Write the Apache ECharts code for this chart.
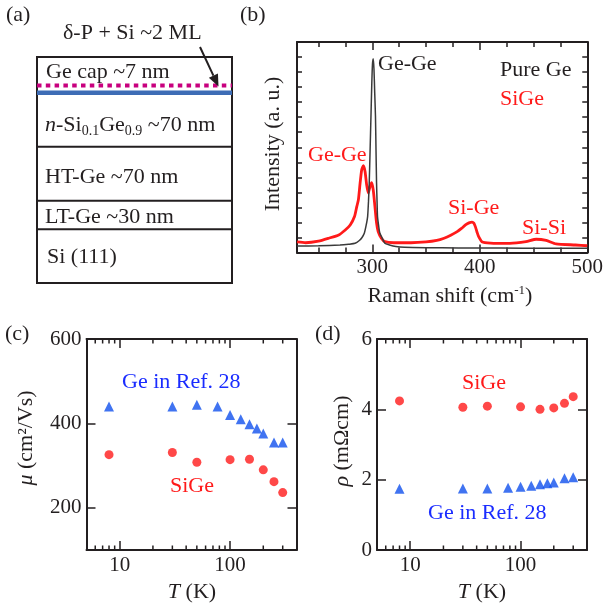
<!DOCTYPE html>
<html><head><meta charset="utf-8">
<script src="https://cdn.jsdelivr.net/npm/echarts@6/dist/echarts.min.js"></script>
<style>html,body{margin:0;padding:0;background:#fff}#c{width:606px;height:608px}</style>
</head><body><div id="c"></div>
<script>
// ---------- data ----------
// (b) Raman spectra
const ramanShiftPureGe = [230,250,270,278,284.1,288,290.5,292.6,294.3,295.7,296.5,297.2,298,298.8,299.6,300.2,300.9,301.6,302.3,303.0,303.5,304.0,304.5,304.9,306,307.1,309,311.7,316,322,330,350,380,420,460,500];
const intensityPureGe = [-0.57,-0.55,-0.5,-0.45,-0.39,-0.2,0.0,0.28,0.8,1.39,2.4,3.63,5.8,8.05,10.3,11.5,11.88,11.2,9.6,8.05,5.8,3.63,2.3,1.39,0.75,0.28,0.0,-0.39,-0.5,-0.6,-0.65,-0.68,-0.7,-0.7,-0.72,-0.72];
const ramanShiftSiGe = [230,238,250,259.6,268.8,274.9,279.5,283.5,285.6,287.1,288.7,290.2,291.7,293.3,294.8,296.3,297.9,299.4,300.9,302.5,304,305.5,308.5,311.7,320,336,350,360,366.8,373,379,383,386.7,390,392.8,394.5,395.9,397.5,399,402,410,428,443,452.6,461.8,471,489,500];
const intensitySiGe = [-0.3,-0.35,-0.25,-0.05,0.17,0.5,0.83,1.39,2.05,2.5,3.61,4.5,4.77,4.39,3.5,2.95,3.39,3.65,3.17,2.05,0.97,0.39,-0.05,-0.28,-0.35,-0.35,-0.3,-0.2,-0.05,0.15,0.39,0.6,0.83,0.97,1.02,0.95,0.72,0.35,0.05,-0.28,-0.37,-0.39,-0.28,-0.12,-0.2,-0.43,-0.5,-0.55];
const ramanLabels = [300,400,500];
const ramanMajorTicks = [300,400];
const ramanMinorTicks = [250,275,325,350,375,425,450,475];

// (c) mobility, (d) resistivity vs temperature
const tempGe = [8,30,50,77,100,125,150,175,200,250,300];
const mobilityGe = [440,440,444,440,420,410,398,388,376,355,355];
const resistivityGe = [1.74,1.75,1.75,1.77,1.80,1.83,1.87,1.90,1.92,2.04,2.07];
const tempSiGe = [8,30,50,100,150,200,250,300];
const mobilitySiGe = [326,331,308,314,315,290,262,236];
const resistivitySiGe = [4.24,4.06,4.09,4.07,4.00,4.04,4.17,4.36];
const mobilityTickLabels = [200,400,600];
const logMinorTicks = [6,7,8,9,20,30,40,50,60,70,80,90,200,300];

// ---------- styling ----------
const FONT = '"Liberation Serif","Times New Roman",serif';
const INK = '#231f20';
const RED = '#ff1a1a';
const BLUE_T = '#1a2cff';
const BLUE_M = '#1050ee';
const zip = (a, b) => a.map((v, i) => [v, b[i]]);

const lineStyle = {color: INK, width: 2};
const tickStyle = {color: INK, width: 1.5};
const lab = {fontSize: 21, fontFamily: FONT, color: INK};

function valX(grid, pos, min, max, ticks, len, line, labels) {
  return {
    gridIndex: grid, type: 'value', position: pos, min, max,
    axisLine: {show: line, onZero: false, lineStyle},
    axisTick: {show: true, inside: true, length: len, customValues: ticks, lineStyle: tickStyle},
    axisLabel: labels ? Object.assign({customValues: labels, margin: 4}, lab) : {show: false},
    splitLine: {show: false}
  };
}
function logX(grid, pos, labels) {
  return {
    gridIndex: grid, type: 'log', logBase: 10, position: pos, min: 5, max: 400,
    axisLine: {show: true, onZero: false, lineStyle},
    axisTick: {show: true, inside: true, length: 9, lineStyle: tickStyle},
    axisLabel: labels ? Object.assign({margin: 5, formatter: v => {
      const l = Math.log10(v); return Math.abs(l - Math.round(l)) < 1e-6 ? String(Math.round(v)) : '';
    }}, lab) : {show: false},
    splitLine: {show: false}, minorTick: {show: false}
  };
}

const chart = echarts.init(document.getElementById('c'), null, {renderer: 'canvas'});

function minorTickSeries(xIdx, yIdx, yMin, yMax) {
  return {
    type: 'custom', xAxisIndex: xIdx, yAxisIndex: yIdx, silent: true, clip: false, z: 5,
    data: logMinorTicks.map(v => [v, yMin]),
    renderItem: (params, api) => {
      const v = api.value(0);
      const b = api.coord([v, yMin]);
      const t = api.coord([v, yMax]);
      return {type: 'group', children: [
        {type: 'line', shape: {x1: b[0], y1: b[1], x2: b[0], y2: b[1] - 4.5}, style: {stroke: INK, lineWidth: 1.5}},
        {type: 'line', shape: {x1: t[0], y1: t[1], x2: t[0], y2: t[1] + 4.5}, style: {stroke: INK, lineWidth: 1.5}}
      ]};
    }
  };
}

function txt(x, y, text, o = {}) {
  const fs = o.fontSize || 22;
  const fill = o.fill || INK;
  const style = {
    text, fill, fontSize: fs, fontFamily: FONT, fontStyle: o.italic ? 'italic' : 'normal',
    align: o.align || 'left', textAlign: o.align || 'left',
    verticalAlign: 'middle', textVerticalAlign: 'middle'
  };
  if (o.rich) style.rich = o.rich;
  return {type: 'text', x, y, rotation: o.rotation || 0, z: 100, style};
}
const R = (fill, fs, extra) => Object.assign({fontSize: fs || 22, fontFamily: FONT, fill: fill || INK}, extra || {});

// arrow geometry for panel (a)
const tail = [200, 47], tip = [218.5, 86.5];
const dx = tip[0] - tail[0], dy = tip[1] - tail[1], dl = Math.hypot(dx, dy);
const ux = dx / dl, uy = dy / dl, hl = 12, hw = 5;
const bc = [tip[0] - ux * hl, tip[1] - uy * hl];

const graphics = [
  // panel (a) layer stack
  {type: 'rect', shape: {x: 37, y: 57, width: 195, height: 226}, style: {fill: 'none', stroke: INK, lineWidth: 2}},
  {type: 'line', shape: {x1: 37, y1: 146.7, x2: 232, y2: 146.7}, style: {stroke: INK, lineWidth: 2}},
  {type: 'line', shape: {x1: 37, y1: 200.7, x2: 232, y2: 200.7}, style: {stroke: INK, lineWidth: 2}},
  {type: 'line', shape: {x1: 37, y1: 229.3, x2: 232, y2: 229.3}, style: {stroke: INK, lineWidth: 2}},
  {type: 'line', shape: {x1: 37, y1: 92.8, x2: 232, y2: 92.8}, style: {stroke: '#3d6cb5', lineWidth: 4.5}},
  {type: 'line', shape: {x1: 37, y1: 85.5, x2: 232, y2: 85.5}, style: {stroke: '#c8007e', lineWidth: 4, lineDash: [4.5, 4.3]}},
  {type: 'line', shape: {x1: tail[0], y1: tail[1], x2: bc[0], y2: bc[1]}, style: {stroke: INK, lineWidth: 2}},
  {type: 'polygon', shape: {points: [tip, [bc[0] - uy * hw, bc[1] + ux * hw], [bc[0] + uy * hw, bc[1] - ux * hw]]}, style: {fill: INK}},
  txt(6, 15, '(a)'),
  txt(63, 33, 'δ-P + Si ~2 ML'),
  txt(46, 72, 'Ge cap ~7 nm'),
  txt(45, 125, '{i|n}{n|-Si}{s|0.1}{n|Ge}{s|0.9}{n| ~70 nm}', {rich: {
    i: R(INK, 22, {fontStyle: 'italic', lineHeight: 26}),
    n: R(INK, 22, {lineHeight: 26}),
    s: R(INK, 14, {lineHeight: 14, verticalAlign: 'bottom'})
  }}),
  txt(45, 177, 'HT-Ge ~70 nm'),
  txt(45, 217, 'LT-Ge ~30 nm'),
  txt(47, 257, 'Si (111)'),
  // panel (b)
  txt(240, 15, '(b)'),
  txt(273, 144, 'Intensity (a. u.)', {align: 'center', rotation: Math.PI / 2}),
  txt(378, 64, 'Ge-Ge'),
  txt(500, 70, 'Pure Ge'),
  txt(500, 99, 'SiGe', {fill: RED}),
  txt(308, 155, 'Ge-Ge', {fill: RED}),
  txt(448, 208, 'Si-Ge', {fill: RED}),
  txt(522, 228, 'Si-Si', {fill: RED}),
  txt(450, 296, '{n|Raman shift (cm}{u|-1}{n|)}', {align: 'center', rich: {
    n: R(INK, 22, {lineHeight: 24}),
    u: R(INK, 13, {lineHeight: 13, verticalAlign: 'top'})
  }}),
  // panel (c)
  txt(5, 334, '(c)'),
  txt(26, 438, '{i|μ}{n| (cm²/Vs)}', {align: 'center', rotation: Math.PI / 2, rich: {
    i: R(INK, 22, {fontStyle: 'italic'}), n: R(INK, 22)
  }}),
  txt(122, 382, 'Ge in Ref. 28', {fill: BLUE_T}),
  txt(170, 486, 'SiGe', {fill: RED}),
  txt(192, 592, '{i|T}{n| (K)}', {align: 'center', rich: {i: R(INK, 22, {fontStyle: 'italic'}), n: R(INK, 22)}}),
  // panel (d)
  txt(315, 334, '(d)'),
  txt(342, 441, '{i|ρ}{n| (mΩcm)}', {align: 'center', rotation: Math.PI / 2, rich: {
    i: R(INK, 22, {fontStyle: 'italic'}), n: R(INK, 22)
  }}),
  txt(462, 383, 'SiGe', {fill: RED}),
  txt(428, 513, 'Ge in Ref. 28', {fill: BLUE_T}),
  txt(482, 592, '{i|T}{n| (K)}', {align: 'center', rich: {i: R(INK, 22, {fontStyle: 'italic'}), n: R(INK, 22)}})
];

const option = {
  animation: false,
  backgroundColor: '#fff',
  grid: [
    {left: 297, top: 42, width: 295, height: 210.5, containLabel: false},
    {left: 86.5, top: 339, width: 210, height: 211, containLabel: false},
    {left: 377, top: 339, width: 210, height: 211, containLabel: false}
  ],
  xAxis: [
    valX(0, 'bottom', 230, 500, ramanMajorTicks, 8, true, ramanLabels),
    valX(0, 'bottom', 230, 500, ramanMinorTicks, 5, false, null),
    valX(0, 'top', 230, 500, ramanMajorTicks, 8, true, null),
    valX(0, 'top', 230, 500, ramanMinorTicks, 5, false, null),
    logX(1, 'bottom', true),
    logX(1, 'top', false),
    logX(2, 'bottom', true),
    logX(2, 'top', false)
  ],
  yAxis: [
    {gridIndex: 0, type: 'value', position: 'left', min: -1, max: 13, interval: 1,
     axisLine: {show: true, onZero: false, lineStyle}, axisTick: {inside: true, length: 5, lineStyle: tickStyle},
     axisLabel: {show: false}, splitLine: {show: false}},
    {gridIndex: 0, type: 'value', position: 'right', min: -1, max: 13, interval: 1,
     axisLine: {show: true, onZero: false, lineStyle}, axisTick: {inside: true, length: 5, lineStyle: tickStyle},
     axisLabel: {show: false}, splitLine: {show: false}},
    {gridIndex: 1, type: 'value', position: 'left', min: 100, max: 600,
     axisLine: {show: true, onZero: false, lineStyle},
     axisTick: {inside: true, length: 9, customValues: mobilityTickLabels, lineStyle: tickStyle},
     axisLabel: Object.assign({customValues: mobilityTickLabels, margin: 5}, lab), splitLine: {show: false}},
    {gridIndex: 1, type: 'value', position: 'right', min: 100, max: 600,
     axisLine: {show: true, onZero: false, lineStyle},
     axisTick: {inside: true, length: 9, customValues: mobilityTickLabels, lineStyle: tickStyle},
     axisLabel: {show: false}, splitLine: {show: false}},
    {gridIndex: 2, type: 'value', position: 'left', min: 0, max: 6, interval: 2,
     axisLine: {show: true, onZero: false, lineStyle}, axisTick: {inside: true, length: 9, lineStyle: tickStyle},
     axisLabel: Object.assign({margin: 5}, lab), splitLine: {show: false}},
    {gridIndex: 2, type: 'value', position: 'right', min: 0, max: 6, interval: 2,
     axisLine: {show: true, onZero: false, lineStyle}, axisTick: {inside: true, length: 9, lineStyle: tickStyle},
     axisLabel: {show: false}, splitLine: {show: false}}
  ],
  series: [
    {type: 'line', name: 'SiGe', xAxisIndex: 0, yAxisIndex: 0, data: zip(ramanShiftSiGe, intensitySiGe),
     showSymbol: false, smooth: 0.2, lineStyle: {color: RED, width: 2.8}, z: 2},
    {type: 'line', name: 'Pure Ge', xAxisIndex: 0, yAxisIndex: 0, data: zip(ramanShiftPureGe, intensityPureGe),
     showSymbol: false, smooth: 0.2, lineStyle: {color: '#3a3a3a', width: 1.5}, z: 3},
    {type: 'scatter', xAxisIndex: 4, yAxisIndex: 2, data: zip(tempGe, mobilityGe), symbol: 'triangle', symbolSize: 10, itemStyle: {color: BLUE_M}},
    {type: 'scatter', xAxisIndex: 4, yAxisIndex: 2, data: zip(tempSiGe, mobilitySiGe), symbol: 'circle', symbolSize: 9, itemStyle: {color: RED}},
    {type: 'scatter', xAxisIndex: 6, yAxisIndex: 4, data: zip(tempGe, resistivityGe), symbol: 'triangle', symbolSize: 10, itemStyle: {color: BLUE_M}},
    {type: 'scatter', xAxisIndex: 6, yAxisIndex: 4, data: zip(tempSiGe, resistivitySiGe), symbol: 'circle', symbolSize: 9, itemStyle: {color: RED}},
    minorTickSeries(4, 2, 100, 600),
    minorTickSeries(6, 4, 0, 6)
  ],
  graphic: graphics
};
chart.setOption(option);
</script>
</body></html>
